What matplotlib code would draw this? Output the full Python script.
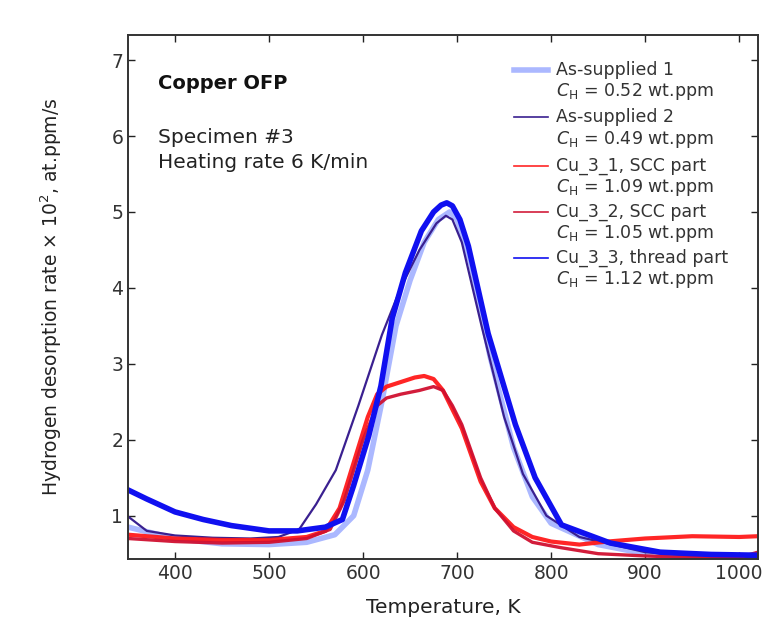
import matplotlib
matplotlib.use("Agg")
import matplotlib.pyplot as plt

plt.rcParams['font.family'] = ['DejaVu Sans']
plt.rcParams['mathtext.fontset'] = 'dejavusans'

# ---- data ----
T_as1 = [350, 400, 450, 500, 540, 570, 590, 605, 620, 635, 650, 665, 680, 692, 700,
         715, 735, 760, 780, 800, 850, 900, 950, 1000, 1020]
v_as1 = [0.85, 0.70, 0.63, 0.62, 0.65, 0.75, 1.00, 1.60, 2.50, 3.50, 4.10, 4.60, 4.90, 5.00, 4.90,
         4.30, 3.10, 1.90, 1.25, 0.90, 0.62, 0.50, 0.47, 0.45, 0.45]

T_as2 = [350, 370, 400, 440, 480, 510, 532, 550, 571, 595, 620, 640, 660, 678, 688, 695,
         705, 726, 750, 770, 795, 830, 900, 950, 1000, 1020]
v_as2 = [0.99, 0.80, 0.74, 0.71, 0.70, 0.72, 0.82, 1.15, 1.60, 2.45, 3.38, 4.00, 4.50, 4.85, 4.95, 4.90,
         4.60, 3.50, 2.30, 1.55, 1.00, 0.72, 0.52, 0.47, 0.45, 0.45]

T_cu31 = [350, 400, 450, 500, 540, 560, 575, 590, 605, 615, 625, 640, 655, 665, 675, 685,
          695, 705, 715, 725, 740, 760, 780, 800, 830, 860, 900, 950, 1000, 1020]
v_cu31 = [0.75, 0.70, 0.68, 0.68, 0.72, 0.80, 1.10, 1.70, 2.30, 2.60, 2.70, 2.76, 2.82, 2.84, 2.80, 2.65,
          2.40, 2.15, 1.80, 1.45, 1.10, 0.85, 0.72, 0.66, 0.62, 0.66, 0.70, 0.73, 0.72, 0.73]

T_cu32 = [350, 400, 450, 500, 540, 565, 580, 600, 615, 625, 640, 660, 675, 685,
          695, 705, 715, 725, 740, 760, 780, 810, 850, 900, 950, 1000, 1020]
v_cu32 = [0.70, 0.66, 0.64, 0.65, 0.70, 0.82, 1.20, 2.00, 2.45, 2.55, 2.60, 2.65, 2.70, 2.65,
          2.45, 2.20, 1.85, 1.50, 1.10, 0.80, 0.65, 0.58, 0.50, 0.47, 0.45, 0.45, 0.52]

T_cu33 = [350, 370, 400, 430, 460, 500, 530, 560, 578, 590, 606, 619, 631, 645, 662, 675, 683, 689,
          695, 703, 712, 733, 762, 783, 811, 863, 916, 970, 1020]
v_cu33 = [1.34, 1.22, 1.05, 0.95, 0.87, 0.80, 0.80, 0.85, 0.95, 1.40, 2.05, 2.71, 3.60, 4.20, 4.75, 5.00, 5.09, 5.12,
          5.08, 4.90, 4.55, 3.40, 2.20, 1.50, 0.88, 0.64, 0.52, 0.49, 0.48]

labels = ["As-supplied 1", "As-supplied 2", "Cu_3_1, SCC part", "Cu_3_2, SCC part", "Cu_3_3, thread part"]
ch_values = ["0.52", "0.49", "1.09", "1.05", "1.12"]
xticks = [400, 500, 600, 700, 800, 900, 1000]
yticks = [1, 2, 3, 4, 5, 6, 7]

series = [(T_as1, v_as1), (T_as2, v_as2), (T_cu31, v_cu31), (T_cu32, v_cu32), (T_cu33, v_cu33)]
colors = ["#8fa0ff", "#3a2090", "#ff1a1a", "#d01030", "#1010f0"]
widths = [4.0, 1.6, 3.0, 2.4, 4.0]
alphas = [0.75, 1.0, 0.95, 0.95, 1.0]

fig = plt.figure(figsize=(7.64, 6.33), dpi=100)
ax = fig.add_axes([128/764, 1-559/633, 630/764, 524/633])

for (T, v), c, w, a in zip(series, colors, widths, alphas):
    ax.plot(T, v, color=c, lw=w, alpha=a, solid_capstyle='round', solid_joinstyle='round')

ax.set_xlim(350, 1020)
ax.set_ylim(0.43, 7.33)
ax.set_xticks(xticks)
ax.set_yticks(yticks)
ax.tick_params(direction='in', length=5, width=1, top=True, right=True,
               labelsize=13.5, colors='#222222', labelcolor='#333333')
for s in ax.spines.values():
    s.set_color('#333333')
    s.set_linewidth(1.4)

ax.set_xlabel("Temperature, K", fontsize=14.5, color='#222222', labelpad=11)
ax.set_ylabel("Hydrogen desorption rate × 10$^2$, at.ppm/s", fontsize=13.5, color='#222222', labelpad=34)

ax.text(0.048, 0.908, "Copper OFP", transform=ax.transAxes, fontsize=14, fontweight='bold',
        va='center', ha='left', color='#111111')
ax.text(0.048, 0.805, "Specimen #3", transform=ax.transAxes, fontsize=14.5,
        va='center', ha='left', color='#222222')
ax.text(0.048, 0.757, "Heating rate 6 K/min", transform=ax.transAxes, fontsize=14.5,
        va='center', ha='left', color='#222222')

# legend (handles aligned with the first text line, as in the original)
row_y = [70, 117, 166, 212, 258]
for i, (lab, ch) in enumerate(zip(labels, ch_values)):
    yy = 1 - (row_y[i] - 35) / 524
    x0 = (514 - 128) / 630
    x1 = (548 - 128) / 630
    ax.plot([x0, x1], [yy, yy], transform=ax.transAxes, color=colors[i], lw=widths[i] if i == 0 else 1.2,
            alpha=alphas[i], clip_on=False)
    xt = (556 - 128) / 630
    ax.text(xt, yy, lab, transform=ax.transAxes, fontsize=12.5, va='center', ha='left', color='#333333')
    ax.text(xt, yy - 22/524, "$C_{\\mathrm{H}}$ = " + ch + " wt.ppm", transform=ax.transAxes,
            fontsize=12.5, va='center', ha='left', color='#333333')

fig.savefig("out.png", dpi=100)
